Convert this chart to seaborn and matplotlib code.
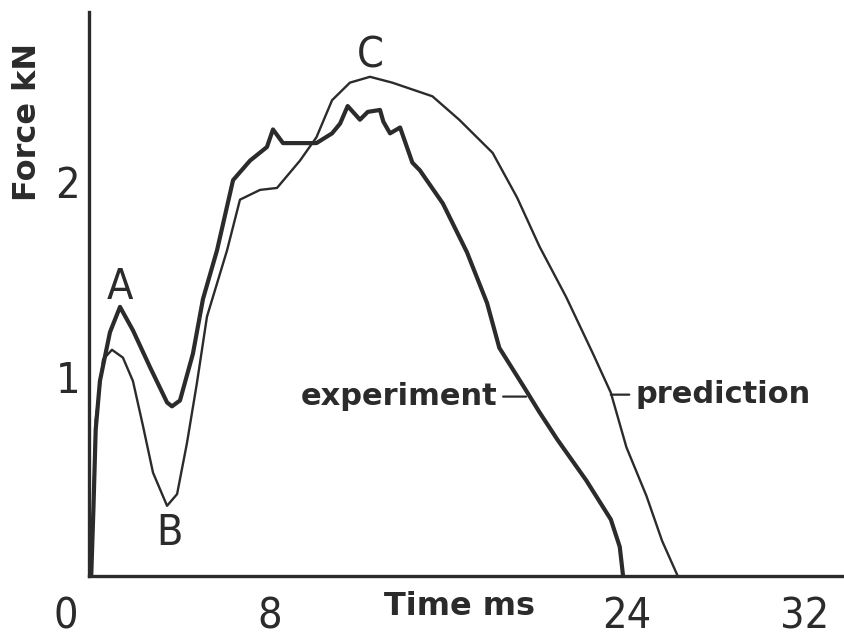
import matplotlib
matplotlib.use("Agg")
import matplotlib.pyplot as plt
import seaborn as sns
import pandas as pd

# ---- data ----
exp_t = [0.10, 0.20, 0.30, 0.49, 0.94, 1.39, 1.97, 2.74, 3.50, 3.72, 4.08, 4.66, 5.11,
         5.74, 6.46, 7.22, 7.98, 8.25, 8.70, 9.46, 10.2, 10.9, 11.26, 11.6, 12.15, 12.5,
         13.05, 13.2, 13.5, 13.95, 14.5, 14.84, 15.87, 16.95, 17.85, 18.4, 19.5, 20.2,
         21.0, 22.3, 23.4, 23.8, 23.95]
exp_f = [0.00, 0.35, 0.75, 1.00, 1.25, 1.38, 1.26, 1.07, 0.89, 0.87, 0.90, 1.14, 1.42,
         1.67, 2.03, 2.13, 2.20, 2.29, 2.22, 2.22, 2.22, 2.27, 2.32, 2.41, 2.34, 2.38,
         2.39, 2.33, 2.27, 2.30, 2.12, 2.08, 1.91, 1.66, 1.40, 1.17, 0.97, 0.84,
         0.70, 0.49, 0.29, 0.15, 0.00]

pred_t = [0.10, 0.30, 0.63, 1.03, 1.52, 1.97, 2.42, 2.87, 3.50, 3.95, 4.39, 4.84, 5.29,
          6.19, 6.77, 7.67, 8.43, 9.46, 10.2, 10.9, 11.7, 12.6, 13.6, 15.4, 16.6, 18.1,
          19.2, 20.2, 21.4, 22.6, 23.4, 24.1, 25.0, 25.7, 26.4]
pred_f = [0.00, 0.80, 1.11, 1.16, 1.12, 1.00, 0.77, 0.53, 0.36, 0.42, 0.68, 0.99, 1.33,
          1.67, 1.93, 1.98, 1.99, 2.13, 2.25, 2.44, 2.53, 2.56, 2.53, 2.46, 2.34, 2.17,
          1.94, 1.69, 1.43, 1.14, 0.94, 0.66, 0.41, 0.18, 0.00]

x_tick_pos = [8, 16, 24, 32]
x_tick_labels = ["8", "Time ms", "24", "32"]
y_tick_pos = [1, 2]
y_tick_labels = ["1", "2"]
series_labels = ["experiment", "prediction"]
peak_labels = ["A", "B", "C"]

ink = "#2b2b2b"
sns.set_style("white")
plt.rcParams["font.family"] = ["DejaVu Sans"]

fig = plt.figure(figsize=(8.44, 6.39), dpi=100)
ax = fig.add_axes([89 / 844, 63 / 639, (844 - 89) / 844, (576 - 12) / 639])

df_e = pd.DataFrame({"t": exp_t, "f": exp_f})
df_p = pd.DataFrame({"t": pred_t, "f": pred_f})
sns.lineplot(data=df_e, x="t", y="f", ax=ax, color=ink, lw=3.0, estimator=None, sort=False)
sns.lineplot(data=df_p, x="t", y="f", ax=ax, color=ink, lw=1.7, estimator=None, sort=False)

ax.set_xlim(0, (844 - 89) / 22.3)
ax.set_ylim(0, (576 - 12) / 195)
for s in ["top", "right"]:
    ax.spines[s].set_visible(False)
for s in ["left", "bottom"]:
    ax.spines[s].set_color(ink)
    ax.spines[s].set_linewidth(2.4)

ax.set_xticks(x_tick_pos)
ax.set_xticklabels([])
ax.set_yticks(y_tick_pos)
ax.set_yticklabels([])
ax.tick_params(axis="both", direction="in", length=14, width=2, color=ink)
ax.set_xlabel("")
ax.set_ylabel("")

num_font = dict(fontsize=31, color=ink, family=["DejaVu Sans"], fontstretch="condensed")
bold_font = dict(fontsize=23, color=ink, fontweight="bold", family=["DejaVu Sans"])

# x tick labels
trans_x = ax.get_xaxis_transform()
ax.text(-1.03, -0.109, "0", transform=trans_x, ha="center", va="bottom", clip_on=False, **num_font)
for p, lab in zip(x_tick_pos, x_tick_labels):
    if lab == "Time ms":
        ax.text(16.6, -0.069, lab, transform=trans_x, ha="center", va="baseline",
                clip_on=False, **bold_font)
    else:
        ax.text(p + 0.1, -0.109, lab, transform=trans_x, ha="center", va="bottom",
                clip_on=False, **num_font)

# y tick labels
trans_y = ax.get_yaxis_transform()
ax.text(-0.012, 2, y_tick_labels[1], transform=trans_y, ha="right", va="center", clip_on=False, **num_font)
ax.text(-0.012, 1, y_tick_labels[0], transform=trans_y, ha="right", va="center", clip_on=False, **num_font)

# y axis title
fig.text(28 / 844, 1 - 122 / 639, "Force kN", rotation=90, ha="center", va="center", **bold_font)

# peak labels
ax.text(1.4, 1.48, peak_labels[0], ha="center", va="center", **num_font)
ax.text(3.63, 0.22, peak_labels[1], ha="center", va="center", **num_font)
ax.text(12.6, 2.67, peak_labels[2], ha="center", va="center", **num_font)

# series annotations with leader lines
ax.annotate(series_labels[0], xy=(19.6, 0.92), xytext=(18.3, 0.92), ha="right", va="center",
            fontsize=22, fontweight="bold", color=ink, family=["DejaVu Sans"],
            arrowprops=dict(arrowstyle="-", color=ink, lw=1.6, shrinkA=2, shrinkB=0))
ax.annotate(series_labels[1], xy=(23.4, 0.93), xytext=(24.5, 0.93), ha="left", va="center",
            fontsize=22, fontweight="bold", color=ink, family=["DejaVu Sans"],
            arrowprops=dict(arrowstyle="-", color=ink, lw=1.6, shrinkA=2, shrinkB=0))

fig.savefig("out.png", dpi=100, facecolor="white")
